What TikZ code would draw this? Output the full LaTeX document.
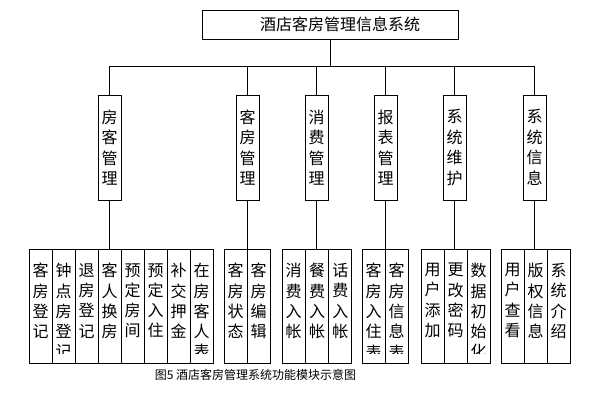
\documentclass[tikz,border=0pt]{standalone}
\usepackage{fontspec}
\newfontfamily\cjk{Noto Sans CJK SC}

\tikzset{
  topbox/.style={draw, minimum width=256pt, minimum height=29pt, inner sep=0pt,
    font=\cjk\fontsize{16pt}{19pt}\selectfont},
  midbox/.style={draw, minimum width=23pt, minimum height=105pt, inner sep=0pt,
    align=center, font=\cjk\fontsize{16pt}{20.5pt}\selectfont},
  leaftext/.style={inner sep=0pt, align=center, anchor=north, minimum width=0pt, minimum height=0pt,
    font=\cjk\fontsize{16pt}{20.3pt}\selectfont},
  leaf/.style={draw, minimum width=23pt, minimum height=114.5pt, inner sep=0pt, anchor=north,
    path picture={
      \clip ([yshift=10pt]path picture bounding box.south west) rectangle (path picture bounding box.north east);
      \node[leaftext] at ([yshift=-14pt]path picture bounding box.north) {#1};}},
  caption/.style={font=\cjk\fontsize{12pt}{14pt}\selectfont}
}

\begin{document}
\begin{tikzpicture}[x=1pt, y=-1pt, line width=0.8pt]
\useasboundingbox (0,0) rectangle (594,405);

\node[topbox] (sys) at (330,24.5) {\hspace{20pt}酒店客房管理信息系统};
\coordinate (bus) at (0,66);

\node[midbox] (m1) at (109.5,147.5) {房\\客\\管\\理};
\node[midbox] (m2) at (247.5,147.5) {客\\房\\管\\理};
\node[midbox] (m3) at (316.5,147.5) {消\\费\\管\\理};
\node[midbox] (m4) at (385.5,147.5) {报\\表\\管\\理};
\node[midbox] (m5) at (454.5,147.5) {系\\统\\维\\护};
\node[midbox] (m6) at (534.5,147.5) {系\\统\\信\\息};

\draw (sys.south) -- (sys.south |- bus);
\draw (m1.north) -- (m1.north |- bus) -- (m6.north |- bus) -- (m6.north);
\draw (m2.north) -- (m2.north |- bus);
\draw (m3.north) -- (m3.north |- bus);
\draw (m4.north) -- (m4.north |- bus);
\draw (m5.north) -- (m5.north |- bus);

\node[leaf={客\\房\\登\\记}] (l11) at (40.5,248.5) {};
\node[leaf={钟\\点\\房\\登\\记}] (l12) at (63.5,248.5) {};
\node[leaf={退\\房\\登\\记}] (l13) at (86.5,248.5) {};
\node[leaf={客\\人\\换\\房}] (l14) at (109.5,248.5) {};
\node[leaf={预\\定\\房\\间}] (l15) at (132.5,248.5) {};
\node[leaf={预\\定\\入\\住}] (l16) at (155.5,248.5) {};
\node[leaf={补\\交\\押\\金}] (l17) at (178.5,248.5) {};
\node[leaf={在\\房\\客\\人\\表}] (l18) at (201.5,248.5) {};

\node[leaf={客\\房\\状\\态}] (l21) at (235.5,248.5) {};
\node[leaf={客\\房\\编\\辑}] (l22) at (258.5,248.5) {};

\node[leaf={消\\费\\入\\帐}] (l31) at (293.7,248.5) {};
\node[leaf={餐\\费\\入\\帐}] (l32) at (317,248.5) {};
\node[leaf={话\\费\\入\\帐}] (l33) at (340.3,248.5) {};

\node[leaf={客\\房\\入\\住\\表}] (l41) at (373.5,248.5) {};
\node[leaf={客\\房\\信\\息\\表}] (l42) at (396.5,248.5) {};

\node[leaf={用\\户\\添\\加}] (l51) at (432.5,248.5) {};
\node[leaf={更\\改\\密\\码}] (l52) at (455.5,248.5) {};
\node[leaf={数\\据\\初\\始\\化}] (l53) at (478.5,248.5) {};

\node[leaf={用\\户\\查\\看}] (l61) at (512.5,248.5) {};
\node[leaf={版\\权\\信\\息}] (l62) at (535.5,248.5) {};
\node[leaf={系\\统\\介\\绍}] (l63) at (558.5,248.5) {};

\draw (m1.south) -- (m1.south |- l14.north);
\draw (m2.south) -- (m2.south |- l21.north);
\draw (m3.south) -- (m3.south |- l32.north);
\draw (m4.south) -- (m4.south |- l41.north);
\draw (m5.south) -- (m5.south |- l52.north);
\draw (m6.south) -- (m6.south |- l62.north);

\node[caption] (cap) at (255.5,375) {图5\ 酒店客房管理系统功能模块示意图};
\end{tikzpicture}
\end{document}
